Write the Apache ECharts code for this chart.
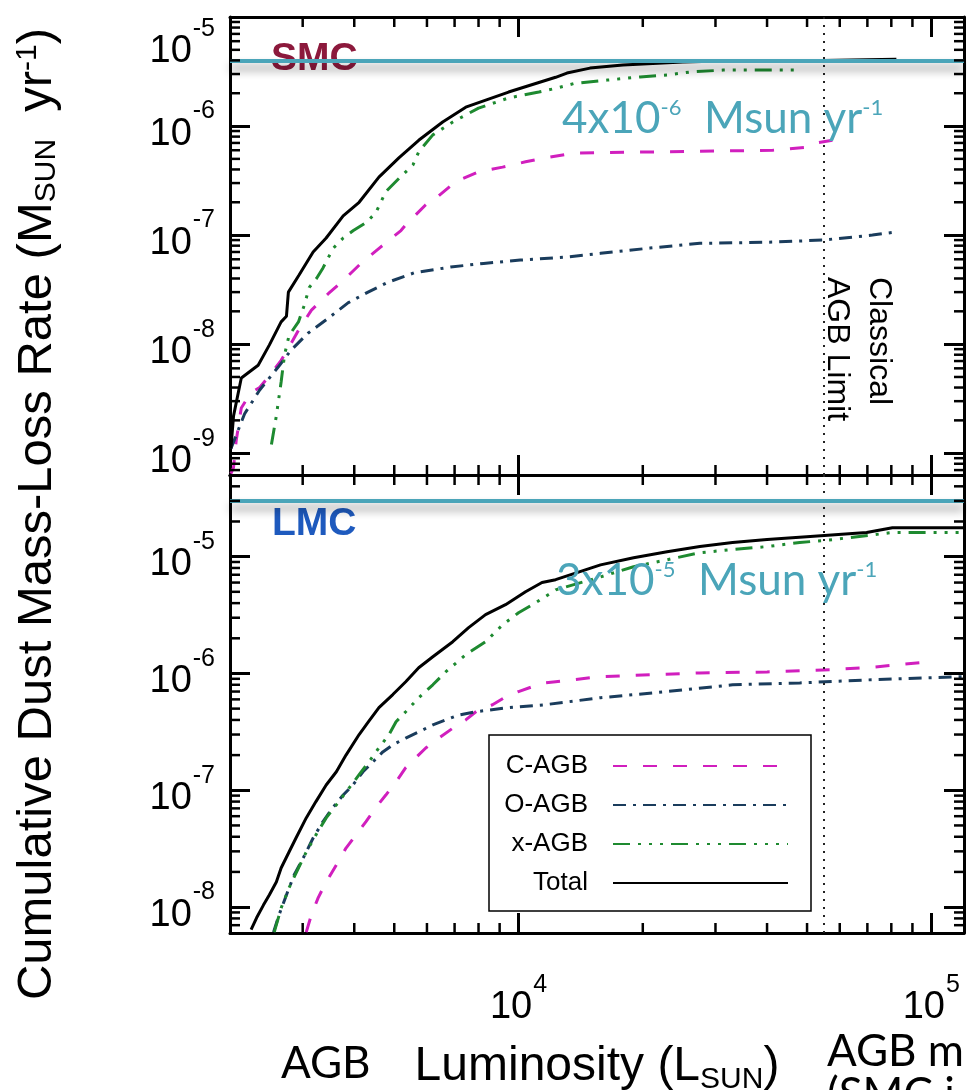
<!DOCTYPE html>
<html>
<head>
<meta charset="utf-8">
<script src="https://cdn.jsdelivr.net/npm/echarts@6/dist/echarts.min.js"></script>
<style>
  html, body { margin: 0; padding: 0; background: #ffffff; }
  #chart { width: 967px; height: 1090px; }
</style>
</head>
<body>
<div id="chart"></div>
<script>
// Cumulative dust mass-loss rate vs. luminosity, [L_sun, M_sun/yr] pairs.

// ---- SMC ----
const smcCAGB = [
  [2010, 6.5e-10], [2040, 7.4e-10], [2070, 1.3e-9], [2130, 2.6e-9], [2250, 3.6e-9], [2360, 4.0e-9],
  [2520, 5.4e-9], [2660, 7.1e-9], [2780, 9.4e-9], [2930, 1.34e-8], [3150, 2.05e-8], [3460, 2.9e-8],
  [3780, 3.9e-8], [4150, 5.5e-8], [4640, 7.8e-8], [5190, 1.1e-7], [5330, 1.24e-7], [5960, 1.9e-7],
  [6410, 2.3e-7], [7050, 3.1e-7], [8000, 3.8e-7], [9150, 4.2e-7], [10400, 4.7e-7], [11600, 5.1e-7],
  [13600, 5.65e-7], [21700, 5.8e-7], [41300, 6.0e-7], [49900, 6.4e-7], [52700, 7.0e-7], [57600, 7.4e-7]
];
const smcOAGB = [
  [2010, 1.1e-9], [2170, 2.3e-9], [2360, 3.8e-9], [2620, 6.2e-9], [2810, 8.8e-9], [3090, 1.26e-8],
  [3460, 1.73e-8], [3870, 2.4e-8], [4320, 3.0e-8], [4830, 3.7e-8], [5580, 4.5e-8], [6850, 5.1e-8],
  [8230, 5.5e-8], [10100, 5.9e-8], [13100, 6.3e-8], [15800, 6.8e-8], [20800, 7.6e-8], [27500, 8.4e-8],
  [40000, 8.6e-8], [54500, 9.0e-8], [72000, 1.0e-7], [82300, 1.07e-7]
];
const smcXAGB = [
  [2520, 1.2e-9], [2590, 2.2e-9], [2660, 4.5e-9], [2710, 7.9e-9], [2780, 1.2e-8], [2930, 1.6e-8],
  [3030, 2.3e-8], [3110, 3.3e-8], [3240, 4.0e-8], [3360, 5.0e-8], [3460, 6.2e-8], [3560, 7.6e-8],
  [3760, 9.4e-8], [3980, 1.1e-7], [4270, 1.3e-7], [4510, 1.6e-7], [4770, 2.5e-7], [5130, 3.3e-7],
  [5550, 4.4e-7], [5730, 5.8e-7], [6200, 8.3e-7], [6930, 1.09e-6], [8000, 1.46e-6], [9460, 1.81e-6],
  [11200, 2.05e-6], [12200, 2.2e-6], [13600, 2.45e-6], [16400, 2.64e-6], [19700, 2.82e-6],
  [22900, 2.94e-6], [26000, 3.13e-6], [31300, 3.26e-6], [48000, 3.26e-6]
];
const smcTotal = [
  [2010, 1.1e-9], [2040, 2.2e-9], [2130, 4.9e-9], [2340, 6.4e-9], [2490, 9.8e-9], [2660, 1.6e-8],
  [2740, 1.8e-8], [2770, 3.0e-8], [2940, 4.3e-8], [3180, 7.0e-8], [3420, 9.4e-8], [3760, 1.5e-7],
  [4110, 2.0e-7], [4590, 3.4e-7], [5130, 5.1e-7], [5730, 7.4e-7], [6550, 1.09e-6], [7450, 1.49e-6],
  [9460, 2.05e-6], [12300, 2.8e-6], [13100, 3.06e-6], [14900, 3.4e-6], [17900, 3.63e-6],
  [25000, 3.87e-6], [34400, 4.0e-6], [54500, 4.0e-6], [82300, 4.1e-6]
];

// ---- LMC ----
const lmcCAGB = [
  [3060, 6.1e-9], [3150, 8.6e-9], [3270, 1.2e-8], [3420, 1.64e-8], [3620, 2.3e-8], [3820, 3.2e-8],
  [4040, 4.15e-8], [4270, 5.4e-8], [4510, 7.1e-8], [4770, 9.1e-8], [5050, 1.18e-7], [5330, 1.56e-7],
  [5640, 1.9e-7], [5960, 2.3e-7], [6410, 2.8e-7], [6930, 3.4e-7], [7450, 4.0e-7], [8000, 4.9e-7],
  [8650, 5.4e-7], [9300, 6.3e-7], [10000, 7.0e-7], [10800, 7.7e-7], [11600, 8.3e-7], [12300, 8.5e-7],
  [15800, 9.4e-7], [27500, 1.01e-6], [40000, 1.03e-6], [57700, 1.08e-6], [69700, 1.12e-6], [95100, 1.24e-6]
];
const lmcOAGB = [
  [2550, 6.1e-9], [2630, 8.6e-9], [2740, 1.27e-8], [2860, 1.88e-8], [3010, 2.64e-8], [3180, 3.9e-8],
  [3360, 5.4e-8], [3550, 7.1e-8], [3760, 9.1e-8], [3970, 1.11e-7], [4200, 1.44e-7], [4440, 1.75e-7],
  [4690, 2.13e-7], [4960, 2.45e-7], [5330, 2.8e-7], [5730, 3.16e-7], [6200, 3.63e-7], [6660, 4.0e-7],
  [7160, 4.4e-7], [7870, 4.7e-7], [9460, 5.1e-7], [11600, 5.4e-7], [15800, 6.2e-7], [22900, 7.0e-7],
  [33000, 8.0e-7], [48000, 8.3e-7], [69700, 8.8e-7], [120000, 9.4e-7]
];
const lmcXAGB = [
  [2560, 6.1e-9], [2660, 9.8e-9], [2780, 1.46e-8], [2930, 2.16e-8], [3060, 2.96e-8], [3230, 4.15e-8],
  [3420, 5.8e-8], [3620, 7.5e-8], [3890, 1.05e-7], [4110, 1.36e-7], [4340, 1.75e-7], [4590, 2.31e-7],
  [4850, 2.98e-7], [5050, 3.86e-7], [5330, 4.7e-7], [5730, 6.2e-7], [6200, 8.0e-7], [6660, 1.03e-6],
  [7450, 1.45e-6], [8320, 1.87e-6], [9150, 2.61e-6], [10000, 3.31e-6], [11000, 4.03e-6],
  [11800, 4.72e-6], [12300, 5.2e-6], [15800, 6.7e-6], [19000, 8.2e-6], [22900, 9.4e-6],
  [27500, 1.08e-5], [33000, 1.15e-5], [40000, 1.22e-5], [48000, 1.32e-5], [57700, 1.40e-5],
  [80500, 1.61e-5], [120000, 1.61e-5]
];
const lmcTotal = [
  [2250, 6.4e-9], [2320, 8.1e-9], [2410, 1.04e-8], [2490, 1.27e-8], [2590, 1.64e-8], [2660, 2.16e-8],
  [2780, 2.96e-8], [2890, 3.9e-8], [3060, 5.8e-8], [3230, 8.0e-8], [3420, 1.11e-7], [3620, 1.44e-7],
  [3820, 2.0e-7], [4110, 3.0e-7], [4340, 3.9e-7], [4590, 5.1e-7], [4960, 6.6e-7], [5330, 8.5e-7],
  [5730, 1.12e-6], [6200, 1.39e-6], [6930, 1.87e-6], [7570, 2.47e-6], [8320, 3.19e-6], [9300, 3.88e-6],
  [10400, 5.0e-6], [11400, 6.0e-6], [12300, 6.35e-6], [15800, 8.5e-6], [19000, 9.8e-6],
  [22900, 1.10e-5], [27500, 1.22e-5], [33000, 1.32e-5], [40000, 1.40e-5], [49900, 1.48e-5],
  [69700, 1.61e-5], [80500, 1.77e-5], [120000, 1.77e-5]
];

// Reference values
const classicalAgbLimit = 5.5e4;   // L_sun
const smcTotalRate = 4e-6;         // M_sun/yr
const lmcTotalRate = 3e-5;         // M_sun/yr

// Axis ranges
const lumRange = [2000, 1.2e5];
const smcRateRange = [6.31e-10, 1e-5];
const lmcRateRange = [6.0e-9, 5.0e-5];

const legendNames = ['C-AGB', 'O-AGB', 'x-AGB', 'Total'];

const FONT = '"Liberation Sans", Arial, Helvetica, sans-serif';
const SLIDE_FONT = 'Lato, "Open Sans", sans-serif';
const TEAL = '#4ba5b9';

const lineLook = {
  'C-AGB': { color: '#d11fbe', type: [14, 16] },
  'O-AGB': { color: '#1a3c5c', type: [13, 7, 3, 7] },
  'x-AGB': { color: '#1e8a30', type: [17, 8, 3, 8, 3, 8, 3, 8] },
  'Total': { color: '#000000', type: 'solid' }
};

// minor tick values (2..9 x 10^n) inside a range
function minorValues(lo, hi) {
  const out = [];
  for (let e = Math.floor(Math.log10(lo)); e <= Math.ceil(Math.log10(hi)); e++) {
    for (let m = 2; m <= 9; m++) {
      const v = m * Math.pow(10, e);
      if (v > lo * 1.0001 && v < hi * 0.9999) out.push(v);
    }
  }
  return out;
}

function powerLabel(v) {
  const e = Math.log10(v);
  const r = Math.round(e);
  if (Math.abs(e - r) > 1e-6) return '';
  return '{b|10}{s|' + r + '}';
}
const powRich = {
  b: { fontFamily: FONT, fontSize: 38, color: '#000', lineHeight: 54, verticalAlign: 'bottom' },
  s: { fontFamily: FONT, fontSize: 25, color: '#000', lineHeight: 26, verticalAlign: 'top', padding: [0, 0, 0, 1] }
};

function logAxis(gridIndex, position, range, labelMargin, extra) {
  return Object.assign({
    type: 'log', logBase: 10, gridIndex: gridIndex, position: position,
    min: range[0], max: range[1],
    axisLine: { show: true, onZero: false, lineStyle: { color: '#000', width: 3 } },
    axisTick: { show: true, inside: true, length: 20, lineStyle: { color: '#000', width: 3 } },
    axisLabel: labelMargin != null
      ? { show: true, formatter: powerLabel, rich: powRich, margin: labelMargin, verticalAlignMaxLabel: 'top' }
      : { show: false },
    splitLine: { show: false },
    minorTick: { show: false },
    minorSplitLine: { show: false }
  }, extra || {});
}

// minor ticks on all four sides of a panel, placed through the panel's axes
function minorTickRenderer(xMinor, yMinor, xRef, yRef) {
  return function (params, api) {
    if (params.dataIndex !== 0) return;
    const cs = params.coordSys;
    const left = cs.x, right = cs.x + cs.width, top = cs.y, bottom = cs.y + cs.height;
    const len = 10;
    const kids = [];
    const seg = (x1, y1, x2, y2) => ({
      type: 'line', shape: { x1: x1, y1: y1, x2: x2, y2: y2 },
      style: { stroke: '#000', lineWidth: 2.5 }
    });
    xMinor.forEach(function (v) {
      const px = api.coord([v, yRef])[0];
      kids.push(seg(px, bottom, px, bottom - len));
      kids.push(seg(px, top, px, top + len));
    });
    yMinor.forEach(function (v) {
      const py = api.coord([xRef, v])[1];
      kids.push(seg(left, py, left + len, py));
      kids.push(seg(right, py, right - len, py));
    });
    return { type: 'group', children: kids };
  };
}

function curve(name, data, panel) {
  const look = lineLook[name];
  return {
    name: name, type: 'line', data: data,
    xAxisIndex: panel * 2, yAxisIndex: panel * 2,
    symbol: 'none', showSymbol: false, smooth: false,
    lineStyle: { color: look.color, width: 3, type: look.type },
    itemStyle: { color: look.color },
    emphasis: { disabled: true },
    z: name === 'Total' ? 4 : 3
  };
}

function panelDecor(panel, xRange, yRange, rateLine) {
  const yMid = Math.sqrt(yRange[0] * yRange[1]);
  return {
    type: 'custom', silent: true,
    xAxisIndex: panel * 2, yAxisIndex: panel * 2,
    data: [[1e4, yMid]],
    renderItem: minorTickRenderer(minorValues(xRange[0], xRange[1]), minorValues(yRange[0], yRange[1]), 1e4, yMid),
    z: 6,
    markLine: {
      silent: true, symbol: 'none', animation: false, precision: 12,
      label: { show: false },
      data: [
        { xAxis: classicalAgbLimit, lineStyle: { color: '#222', width: 2, type: [2, 6] } },
        { yAxis: rateLine, lineStyle: {
            color: TEAL, width: 4, type: 'solid',
            shadowColor: 'rgba(0,0,0,0.45)', shadowBlur: 10, shadowOffsetY: 7 } }
      ]
    }
  };
}

const chart = echarts.init(document.getElementById('chart'), null, { renderer: 'canvas' });

const option = {
  animation: false,
  backgroundColor: '#ffffff',
  grid: [
    { left: 230, right: 3, top: 17, height: 458, containLabel: false, outerBoundsMode: 'none' },
    { left: 230, right: 3, top: 475, height: 458, containLabel: false, outerBoundsMode: 'none' }
  ],
  xAxis: [
    logAxis(0, 'bottom', lumRange, null),
    logAxis(0, 'top', lumRange, null),
    logAxis(1, 'bottom', lumRange, 40, {
      name: 'Luminosity (L{sub|SUN})', nameLocation: 'middle', nameGap: 106,
      nameTextStyle: {
        fontFamily: FONT, fontSize: 48, color: '#000', lineHeight: 56,
        rich: { sub: { fontFamily: FONT, fontSize: 30, color: '#000', lineHeight: 30, verticalAlign: 'bottom' } }
      }
    }),
    logAxis(1, 'top', lumRange, null)
  ],
  yAxis: [
    logAxis(0, 'left', smcRateRange, 15),
    logAxis(0, 'right', smcRateRange, null),
    logAxis(1, 'left', lmcRateRange, 15),
    logAxis(1, 'right', lmcRateRange, null)
  ],
  legend: {
    data: legendNames, orient: 'vertical', left: 489, top: 735, align: 'right',
    itemWidth: 175, itemHeight: 2, itemGap: 13,
    padding: [18, 22, 15, 4],
    backgroundColor: '#ffffff', borderColor: '#000', borderWidth: 1.5, borderRadius: 0,
    selectedMode: false,
    itemStyle: { opacity: 0 },
    formatter: function (n) { return '{t|' + n + '}'; },
    textStyle: {
      rich: { t: { fontFamily: FONT, fontSize: 26, color: '#000', width: 95, align: 'right', lineHeight: 30, padding: [0, 20, 0, 0] } }
    }
  },
  graphic: [
    { type: 'text', x: 37, y: 514, rotation: Math.PI / 2, z: 1,
      style: {
        text: 'Cumulative Dust Mass-Loss Rate (M{sub|SUN}  yr{sup|-1})',
        fill: '#000', fontFamily: FONT, fontSize: 49, align: 'center', verticalAlign: 'middle',
        rich: {
          sub: { fontFamily: FONT, fontSize: 30, fill: '#000', verticalAlign: 'bottom', lineHeight: 30 },
          sup: { fontFamily: FONT, fontSize: 30, fill: '#000', verticalAlign: 'top', lineHeight: 30 }
        }
      } },
    { type: 'text', x: 271, y: 59, z: 1,
      style: { text: 'SMC', fill: '#8c193c', fontFamily: FONT, fontWeight: 'bold', fontSize: 39, verticalAlign: 'middle' } },
    { type: 'text', x: 272, y: 524, z: 1,
      style: { text: 'LMC', fill: '#1e5abe', fontFamily: FONT, fontWeight: 'bold', fontSize: 39, verticalAlign: 'middle' } },
    { type: 'text', x: 900, y: 277, rotation: -Math.PI / 2, z: 1,
      style: { text: 'Classical\nAGB Limit', fill: '#000', fontFamily: FONT, fontSize: 32, lineHeight: 42,
        align: 'left', verticalAlign: 'top' } },
    { type: 'text', x: 562, y: 119, z: 7,
      style: {
        text: '4x10{p|-6}  Msun yr{p|-1}', fill: TEAL, fontFamily: SLIDE_FONT, fontSize: 44, verticalAlign: 'middle',
        rich: { p: { fontFamily: SLIDE_FONT, fontSize: 22, fill: TEAL, verticalAlign: 'top', lineHeight: 22 } }
      } },
    { type: 'text', x: 556, y: 581, z: 7,
      style: {
        text: '3x10{p|-5}  Msun yr{p|-1}', fill: TEAL, fontFamily: SLIDE_FONT, fontSize: 44, verticalAlign: 'middle',
        rich: { p: { fontFamily: SLIDE_FONT, fontSize: 22, fill: TEAL, verticalAlign: 'top', lineHeight: 22 } }
      } },
    { type: 'text', x: 281, y: 1064, z: 7,
      style: { text: 'AGB', fill: '#000', fontFamily: SLIDE_FONT, fontSize: 44, verticalAlign: 'middle' } },
    { type: 'text', x: 827, y: 1052, z: 7,
      style: { text: 'AGB m', fill: '#000', fontFamily: SLIDE_FONT, fontSize: 44, verticalAlign: 'middle' } },
    { type: 'text', x: 827, y: 1095, z: 7,
      style: { text: '(SMC i', fill: '#000', fontFamily: SLIDE_FONT, fontSize: 44, verticalAlign: 'middle' } }
  ],
  series: [
    curve('C-AGB', smcCAGB, 0),
    curve('O-AGB', smcOAGB, 0),
    curve('x-AGB', smcXAGB, 0),
    curve('Total', smcTotal, 0),
    curve('C-AGB', lmcCAGB, 1),
    curve('O-AGB', lmcOAGB, 1),
    curve('x-AGB', lmcXAGB, 1),
    curve('Total', lmcTotal, 1),
    panelDecor(0, lumRange, smcRateRange, smcTotalRate),
    panelDecor(1, lumRange, lmcRateRange, lmcTotalRate)
  ]
};

chart.setOption(option);
</script>
</body>
</html>
